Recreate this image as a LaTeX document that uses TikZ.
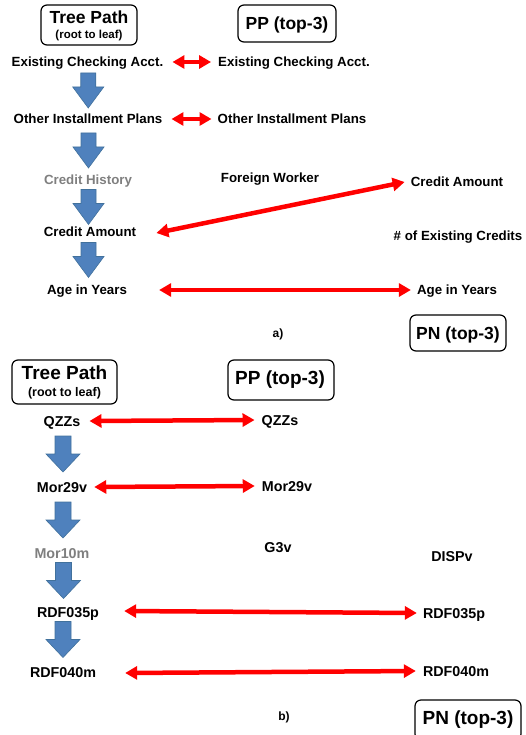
\documentclass[tikz,border=0pt]{standalone}
\usepackage{fontspec}
\setmainfont{Liberation Sans}
\usetikzlibrary{arrows.meta,calc}
\definecolor{bfill}{HTML}{4F81BD}
\definecolor{bline}{HTML}{41719C}
\definecolor{gtext}{HTML}{7F7F7F}
\begin{document}
\begin{tikzpicture}[x=1pt,y=-1pt,
  txtA/.style={font=\bfseries\fontsize{13.3}{14}\selectfont, inner sep=0pt, text height=9.5pt, text depth=0pt},
  txtB/.style={font=\bfseries\fontsize{14.3}{15}\selectfont, inner sep=0pt, text height=10.2pt, text depth=0pt},
  greytxt/.style={text=gtext},
  ttlA/.style={font=\bfseries\fontsize{17.5}{18}\selectfont, inner sep=0pt, text height=12.5pt, text depth=0pt},
  ttlB/.style={font=\bfseries\fontsize{19}{20}\selectfont, inner sep=0pt, text height=13.6pt, text depth=0pt},
  subA/.style={font=\bfseries\fontsize{11.5}{12}\selectfont, inner sep=0pt, text height=8.2pt, text depth=0pt},
  subB/.style={font=\bfseries\fontsize{12.5}{13}\selectfont, inner sep=0pt, text height=8.9pt, text depth=0pt},
  captxt/.style={font=\bfseries\fontsize{12}{13}\selectfont, inner sep=0pt, text height=8.6pt, text depth=0pt},
  rbox/.style={draw, rounded corners=6pt, line width=1.2pt, inner sep=0pt},
  redarr/.style={draw=red, line width=4.5pt, {Triangle[length=12pt,width=13pt]}-{Triangle[length=12pt,width=13pt]}},
  downA/.pic={\filldraw[fill=bfill, draw=bline, line width=0.6pt]
     (-7.5,-17.5) -- (7.5,-17.5) -- (7.5,-3.5) -- (15.5,-3.5) -- (0,17.5) -- (-15.5,-3.5) -- (-7.5,-3.5) -- cycle;},
  downB/.pic={\filldraw[fill=bfill, draw=bline, line width=0.6pt]
     (-8,-18) -- (8,-18) -- (8,0) -- (17,0) -- (0,18) -- (-17,0) -- (-8,0) -- cycle;}
]
\useasboundingbox (0,0) rectangle (526,735);
\clip (0,0) rectangle (526,735);

% ---------- part a ----------
\node[rbox, minimum width=96pt, minimum height=40pt] (tpA) at (89,25) {};
\node[ttlA] (tpAt) at (89,17) {Tree Path};
\node[subA] (tpAs) at (89,34) {(root to leaf)};
\node[rbox, minimum width=98pt, minimum height=37pt] (ppA) at (287,23.5) {};
\node[ttlA] (ppAt) at (287,23) {PP (top-3)};

\node[txtA] (ecL) at (87.5,62) {Existing Checking Acct.};
\node[txtA] (ecR) at (294,62) {Existing Checking Acct.};
\node[txtA] (oiL) at (88,119) {Other Installment Plans};
\node[txtA] (oiR) at (292,119) {Other Installment Plans};
\node[txtA, greytxt] (chL) at (88,180) {Credit History};
\node[txtA] (fw) at (270,178) {Foreign Worker};
\node[txtA] (caR) at (457,182) {Credit Amount};
\node[txtA] (caL) at (90,232) {Credit Amount};
\node[txtA] (nec) at (458,236) {\# of Existing Credits};
\node[txtA] (ayL) at (87,290) {Age in Years};
\node[txtA] (ayR) at (457,290) {Age in Years};
\node[captxt] (capA) at (278,333) {a)};
\node[rbox, minimum width=96pt, minimum height=36pt] (pnA) at (458,333) {};
\node[ttlA] (pnAt) at (458,333) {PN (top-3)};

\pic at ($(ecL)!0.5!(oiL)+(0.5,0)$) {downA};
\pic at ($(oiL)!0.5!(chL)+(0.5,1)$) {downA};
\pic at ($(chL)!0.5!(caL)+(-0.5,1)$) {downA};
\pic at ($(caL)!0.5!(ayL)+(0,-1)$) {downA};

\draw[redarr] ([xshift=9pt]ecL.east) -- ([xshift=-7pt]ecR.west);
\draw[redarr] ([xshift=9pt]oiL.east) -- ([xshift=-6pt]oiR.west);
\draw[redarr] ([xshift=20pt,yshift=-1pt]caL.east) -- ([xshift=-6pt]caR.west);
\draw[redarr] ([xshift=32pt]ayL.east) -- ([xshift=-6pt]ayR.west);

% ---------- part b ----------
\node[rbox, minimum width=105pt, minimum height=44pt] (tpB) at (64.5,382) {};
\node[ttlB] (tpBt) at (64.5,373) {Tree Path};
\node[subB] (tpBs) at (64.5,392) {(root to leaf)};
\node[rbox, minimum width=106pt, minimum height=40pt] (ppB) at (281,380) {};
\node[ttlB] (ppBt) at (280,378) {PP (top-3)};

\node[txtB] (qzL) at (62,421) {QZZs};
\node[txtB] (qzR) at (280,420) {QZZs};
\node[txtB] (m29L) at (62,487) {Mor29v};
\node[txtB] (m29R) at (287,486) {Mor29v};
\node[txtB, greytxt] (m10) at (62,553) {Mor10m};
\node[txtB] (g3v) at (278,547) {G3v};
\node[txtB] (dispv) at (452,556) {DISPv};
\node[txtB] (r35L) at (68,612) {RDF035p};
\node[txtB] (r35R) at (454,613) {RDF035p};
\node[txtB] (r40L) at (63,672) {RDF040m};
\node[txtB] (r40R) at (456,671) {RDF040m};
\node[captxt] (capB) at (284,716) {b)};
\node[rbox, minimum width=106pt, minimum height=40pt] (pnB) at (468,720) {};
\node[ttlB] (pnBt) at (468,718) {PN (top-3)};

\pic at ($(qzL)!0.5!(m29L)+(1,0)$) {downB};
\pic at ($(m29L)!0.5!(m10)+(1,0)$) {downB};
\pic at ($(m10)!0.5!(r35L)+(-1.5,-2)$) {downB};
\pic at ($(r35L)!0.5!(r40L)+(-2.5,-2.5)$) {downB};

\draw[redarr] ([xshift=9pt]qzL.east) -- ([xshift=-7pt]qzR.west);
\draw[redarr] ([xshift=7pt]m29L.east) -- ([xshift=-7pt]m29R.west);
\draw[redarr] ([xshift=25pt,yshift=1pt]r35L.east) -- ([xshift=-6pt]r35R.west);
\draw[redarr] ([xshift=29pt,yshift=-1pt]r40L.east) -- ([xshift=-7pt]r40R.west);
\end{tikzpicture}
\end{document}
